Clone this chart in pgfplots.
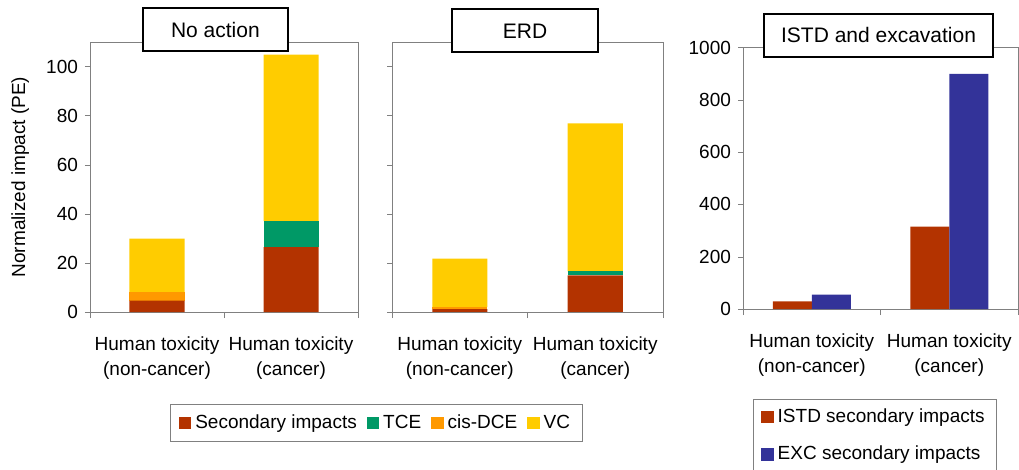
\documentclass[border=0pt]{standalone}
\usepackage{pgfplots}
\pgfplotsset{compat=1.18}
\usepackage{pgfplotstable}
\usepackage{fontspec}
\setmainfont{Liberation Sans}
\definecolor{csec}{RGB}{179,51,0}
\definecolor{ctce}{RGB}{0,153,102}
\definecolor{ccis}{RGB}{255,153,0}
\definecolor{cvc}{RGB}{255,204,0}
\definecolor{cexc}{RGB}{51,51,153}
\newcommand{\fs}{\fontsize{9.5}{12.5}\selectfont}

\pgfplotstableread{
x sec tce cis vc
0 4.6 0 3.4 21.9
1 26.4 10.6 0 67.9
}\noaction
\pgfplotstableread{
x sec tce cis vc
0 1.2 0 0.8 19.7
1 14.9 1.7 0 60.2
}\erd
\pgfplotstableread{
x istd exc
0 29 55
1 315 899
}\istd

\pgfplotsset{
  panel/.style={
    scale only axis, anchor=south west,
    xmin=-0.5, xmax=1.5, ymin=0,
    xtick={0,1},
    xticklabels={Human toxicity\\(non-cancer),Human toxicity\\(cancer)},
    minor xtick={-0.5,0.5,1.5},
    major x tick style={draw=none},
    tick align=outside, major tick length=2.5pt, minor tick length=3pt,
    xtick pos=bottom, ytick pos=left,
    axis line style={draw=black!50},
    /pgf/number format/assume math mode=true,
    /pgf/number format/1000 sep={},
    tick label style={font=\fs},
    xticklabel style={align=center, yshift=-6.5pt},
    label style={font=\fs},
    every axis title shift=0pt,
    title style={draw=black, fill=white, line width=1pt, minimum height=21.5pt,
      inner sep=0pt, font=\fontsize{10.5}{12}\selectfont, anchor=center},
    legend cell align=left,
  },
  sqlegend/.style={
    legend image code/.code={\fill[##1] (0pt,-3.1pt) rectangle (6.2pt,3.1pt);},
  },
}

\begin{document}
\begin{tikzpicture}
\useasboundingbox (0,0) rectangle (509.5pt,-235pt);

% Panel 1: No action
\begin{axis}[panel, at={(45pt,-156pt)}, width=134pt, height=135pt,
  ymax=110, ytick={0,20,...,100},
  ybar stacked, bar width=27.5pt, sqlegend,
  title={No action},
  title style={at={(axis description cs:0.468,1.046)}, minimum width=72.5pt},
  ylabel={Normalized impact (PE)},
  ylabel style={at={(axis description cs:-0.26,0.5)}, anchor=center},
  legend columns=4,
  legend style={at={(axis description cs:1.069,-0.411)}, anchor=center,
    draw=black!50, font=\fs, inner xsep=4pt, inner ysep=3pt,
    /tikz/every even column/.append style={column sep=3pt}},
]
\addplot[fill=csec, draw=none] table[x=x, y=sec] {\noaction};
\addplot[fill=ctce, draw=none] table[x=x, y=tce] {\noaction};
\addplot[fill=ccis, draw=none] table[x=x, y=cis] {\noaction};
\addplot[fill=cvc, draw=none] table[x=x, y=vc] {\noaction};
\legend{Secondary impacts, TCE, cis-DCE, VC}
\end{axis}

% Panel 2: ERD
\begin{axis}[panel, at={(196pt,-156pt)}, width=135.5pt, height=135pt,
  ymax=110, ytick={0,20,...,100}, yticklabels={},
  ybar stacked, bar width=27.5pt,
  title={ERD},
  title style={at={(axis description cs:0.491,1.041)}, minimum width=73pt},
]
\addplot[fill=csec, draw=none] table[x=x, y=sec] {\erd};
\addplot[fill=ctce, draw=none] table[x=x, y=tce] {\erd};
\addplot[fill=ccis, draw=none] table[x=x, y=cis] {\erd};
\addplot[fill=cvc, draw=none] table[x=x, y=vc] {\erd};
\end{axis}

% Panel 3: ISTD and excavation
\begin{axis}[panel, at={(371.5pt,-154.5pt)}, width=137.5pt, height=130.75pt,
  ymax=1000, ytick={0,200,...,1000},
  ybar=0pt, bar width=19.5pt, sqlegend,
  title={ISTD and excavation},
  title style={at={(axis description cs:0.493,1.047)}, minimum width=114.5pt},
  legend columns=1,
  legend style={at={(axis description cs:0.036,-0.344)}, anchor=north west,
    draw=black!50, font=\fs, inner xsep=4pt, inner ysep=2.5pt, row sep=6.5pt},
]
\addplot[fill=csec, draw=none] table[x=x, y=istd] {\istd};
\addplot[fill=cexc, draw=none] table[x=x, y=exc] {\istd};
\legend{ISTD secondary impacts, EXC secondary impacts}
\end{axis}
\end{tikzpicture}
\end{document}
